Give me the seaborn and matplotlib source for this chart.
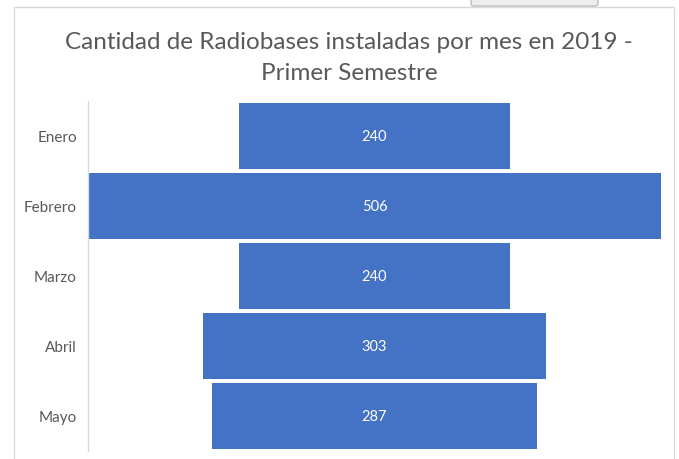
import matplotlib
matplotlib.use("Agg")
import matplotlib.pyplot as plt
import seaborn as sns
import pandas as pd
from matplotlib.patches import Rectangle, FancyBboxPatch

months = ["Enero", "Febrero", "Marzo", "Abril", "Mayo"]
values = [240, 506, 240, 303, 287]
title = "Cantidad de Radiobases instaladas por mes en 2019 -\nPrimer Semestre"

sns.set_style("white")
plt.rcParams['font.family'] = ['Lato', 'DejaVu Sans']

df = pd.DataFrame({"mes": months, "valor": values})
df["mitad"] = df["valor"] / 2
df["neg"] = -df["mitad"]

W, H = 679, 460
fig = plt.figure(figsize=(W / 100, H / 100), dpi=100)
ax = fig.add_axes([88 / W, 1 - 452 / H, (661 - 88) / W, 350 / H])

color = "#4472C4"
sns.barplot(data=df, x="mitad", y="mes", orient="h", color=color, width=0.93,
            linewidth=0, saturation=1, ax=ax)
sns.barplot(data=df, x="neg", y="mes", orient="h", color=color, width=0.93,
            linewidth=0, saturation=1, ax=ax)

ax.set_xlim(-253, 253)
ax.set_ylim(4.5, -0.5)
ax.set_xlabel("")
ax.set_ylabel("")
ax.set_xticks([])
for s in ["top", "right", "bottom"]:
    ax.spines[s].set_visible(False)
ax.spines["left"].set_color("#D9D9D9")
ax.spines["left"].set_linewidth(1)
ax.tick_params(axis="y", length=0, pad=8, labelsize=11, labelcolor="#595959")

for i, v in enumerate(values):
    ax.text(0, i, str(v), ha="center", va="center", color="white", fontsize=10.5)

fig.text(349 / W, 1 - 58 / H, title, ha="center", va="center", fontsize=17.5,
         color="#595959", linespacing=1.62)

# chart area border
fig.patches.append(Rectangle((14 / W, -0.1), (674 - 14) / W, 1 - 8 / H + 0.1,
                             transform=fig.transFigure, fill=False,
                             edgecolor="#D9D9D9", linewidth=1))
fig.patches.append(FancyBboxPatch((471 / W, 1 - 7 / H), (598 - 471) / W, 0.05,
                                  boxstyle="round,pad=0,rounding_size=0.005",
                                  transform=fig.transFigure, facecolor="#EDEDED",
                                  edgecolor="#BFBFBF", linewidth=1))

fig.savefig("out.png", dpi=100)
